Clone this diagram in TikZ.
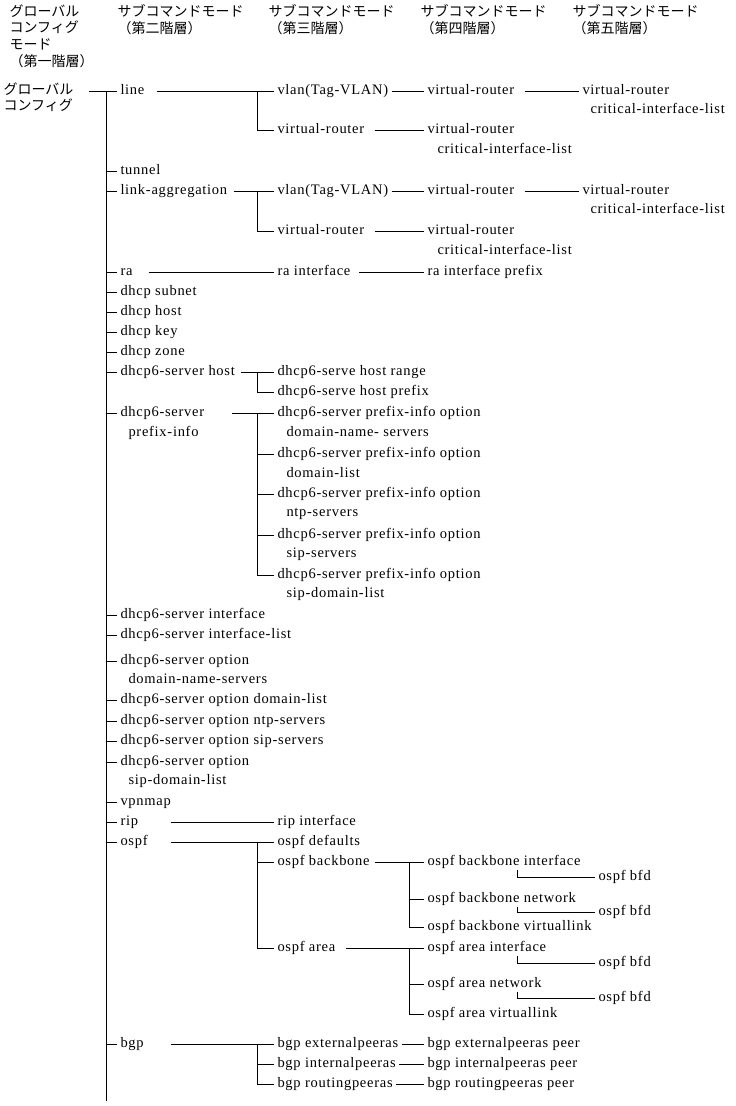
\documentclass[tikz,border=0pt]{standalone}
\usepackage{fontspec}
\setmainfont[LetterSpace=5]{Liberation Serif}
\newfontfamily\jpfont{Noto Sans CJK JP}
\usetikzlibrary{positioning}
\tikzset{
  cmd/.style={anchor=west,inner xsep=3pt,inner ysep=1pt,text height=10pt,text depth=3pt,font=\fontsize{14.5}{16}\selectfont},
  jp/.style={anchor=north west,inner sep=0pt,align=left,font=\jpfont\fontsize{14}{16.7}\selectfont},
}

\begin{document}
\begin{tikzpicture}[x=1pt,y=-1pt,line width=1pt]
  \useasboundingbox (0,0) rectangle (736,1106);
  \node[jp] (hd1) at (9,4) {グローバル\\コンフィグ\\モード\\（第一階層）};
  \node[jp] (hd2) at (117,4) {サブコマンドモード\\（第二階層）};
  \node[jp] (hd3) at (268,4) {サブコマンドモード\\（第三階層）};
  \node[jp] (hd4) at (420,4) {サブコマンドモード\\（第四階層）};
  \node[jp] (hd5) at (572,4) {サブコマンドモード\\（第五階層）};
  \node[jp,font=\jpfont\fontsize{14}{16}\selectfont] (root) at (3,82) {グローバル\\コンフィグ};

  \coordinate (tk) at (106,91);
  \coordinate (tkend) at (106,1101);
  \coordinate (bar3) at (257,0);
  \coordinate (bar4) at (409,0);
  \coordinate (elb) at (517,0);

  % second level
  \node[cmd] (ln) at (117,91) {line};
  \node[cmd] (tun) at (117,171) {tunnel};
  \node[cmd] (lag) at (117,191) {link-aggregation};
  \node[cmd] (ra) at (117,272) {ra};
  \node[cmd] (dsub) at (117,292) {dhcp subnet};
  \node[cmd] (dhost) at (117,312) {dhcp host};
  \node[cmd] (dkey) at (117,332) {dhcp key};
  \node[cmd] (dzone) at (117,352) {dhcp zone};
  \node[cmd] (shost) at (117,372) {dhcp6-server host};
  \node[cmd] (spfx) at (117,413) {dhcp6-server};
  \node[cmd] (spfxb) at (125,433) {prefix-info};
  \node[cmd] (sif) at (117,615) {dhcp6-server interface};
  \node[cmd] (sifl) at (117,635) {dhcp6-server interface-list};
  \node[cmd] (sdns) at (117,661) {dhcp6-server option};
  \node[cmd] (sdnsb) at (125,680) {domain-name-servers};
  \node[cmd] (sdl) at (117,700) {dhcp6-server option domain-list};
  \node[cmd] (sntp) at (117,721) {dhcp6-server option ntp-servers};
  \node[cmd] (ssip) at (117,741) {dhcp6-server option sip-servers};
  \node[cmd] (ssdl) at (117,762) {dhcp6-server option};
  \node[cmd] (ssdlb) at (125,781) {sip-domain-list};
  \node[cmd] (vpn) at (117,802) {vpnmap};
  \node[cmd] (rip) at (117,822) {rip};
  \node[cmd] (ospf) at (117,842) {ospf};
  \node[cmd] (bgp) at (117,1044) {bgp};

  % third level
  \node[cmd] (lvlan) at (274,91) {vlan(Tag-VLAN)};
  \node[cmd] (lvr) at (274,130) {virtual-router};
  \node[cmd] (avlan) at (274,191) {vlan(Tag-VLAN)};
  \node[cmd] (avr) at (274,231) {virtual-router};
  \node[cmd] (rai) at (274,272) {ra interface};
  \node[cmd] (hrng) at (274,372) {dhcp6-serve host range};
  \node[cmd] (hpfx) at (274,392) {dhcp6-serve host prefix};
  \node[cmd] (pdns) at (274,413) {dhcp6-server prefix-info option};
  \node[cmd] (pdnsb) at (283,433) {domain-name- servers};
  \node[cmd] (pdl) at (274,454) {dhcp6-server prefix-info option};
  \node[cmd] (pdlb) at (283,474) {domain-list};
  \node[cmd] (pntp) at (274,494) {dhcp6-server prefix-info option};
  \node[cmd] (pntpb) at (283,513) {ntp-servers};
  \node[cmd] (psip) at (274,535) {dhcp6-server prefix-info option};
  \node[cmd] (psipb) at (283,554) {sip-servers};
  \node[cmd] (psdl) at (274,575) {dhcp6-server prefix-info option};
  \node[cmd] (psdlb) at (283,594) {sip-domain-list};
  \node[cmd] (ripi) at (274,822) {rip interface};
  \node[cmd] (odef) at (274,842) {ospf defaults};
  \node[cmd] (obb) at (274,862) {ospf backbone};
  \node[cmd] (oar) at (274,948) {ospf area};
  \node[cmd] (bext) at (274,1044) {bgp externalpeeras};
  \node[cmd] (bint) at (274,1064) {bgp internalpeeras};
  \node[cmd] (brt) at (274,1084) {bgp routingpeeras};

  % fourth level
  \node[cmd] (lvr4) at (424,91) {virtual-router};
  \node[cmd] (lcil) at (424,130) {virtual-router};
  \node[cmd] (lcilb) at (434,150) {critical-interface-list};
  \node[cmd] (avr4) at (424,191) {virtual-router};
  \node[cmd] (acil) at (424,231) {virtual-router};
  \node[cmd] (acilb) at (434,251) {critical-interface-list};
  \node[cmd] (raip) at (424,272) {ra interface prefix};
  \node[cmd] (bbif) at (424,862) {ospf backbone interface};
  \node[cmd] (bbnw) at (424,899) {ospf backbone network};
  \node[cmd] (bbvl) at (424,927) {ospf backbone virtuallink};
  \node[cmd] (arif) at (424,948) {ospf area interface};
  \node[cmd] (arnw) at (424,984) {ospf area network};
  \node[cmd] (arvl) at (424,1014) {ospf area virtuallink};
  \node[cmd] (bextp) at (424,1044) {bgp externalpeeras peer};
  \node[cmd] (bintp) at (424,1064) {bgp internalpeeras peer};
  \node[cmd] (brtp) at (424,1084) {bgp routingpeeras peer};

  % fifth level
  \node[cmd] (lcil5) at (579,91) {virtual-router};
  \node[cmd] (lcil5b) at (587,110) {critical-interface-list};
  \node[cmd] (acil5) at (579,191) {virtual-router};
  \node[cmd] (acil5b) at (587,210) {critical-interface-list};
  \node[cmd] (bfd1) at (595,877) {ospf bfd};
  \node[cmd] (bfd2) at (595,912) {ospf bfd};
  \node[cmd] (bfd3) at (595,963) {ospf bfd};
  \node[cmd] (bfd4) at (595,998) {ospf bfd};

  % trunk
  \draw[shorten <=15pt] (root.east |- ln.west) -- (ln.west);
  \draw (tk) -- (tkend);
  \foreach \n in {ln,tun,lag,ra,dsub,dhost,dkey,dzone,shost,spfx,sif,sifl,sdns,sdl,sntp,ssip,ssdl,vpn,rip,ospf,bgp}
    \draw (tk |- \n.west) -- (\n.west);

  % line / link-aggregation
  \draw[shorten <=9pt] (ln.east) -- (lvlan.west);
  \draw (bar3 |- lvlan.west) |- (lvr.west);
  \draw (lvlan.east) -- (lvr4.west);
  \draw[shorten <=7pt] (lvr4.east) -- (lcil5.west);
  \draw[shorten <=7pt] (lvr.east) -- (lcil.west);
  \draw[shorten <=3pt] (lag.east) -- (avlan.west);
  \draw (bar3 |- avlan.west) |- (avr.west);
  \draw (avlan.east) -- (avr4.west);
  \draw[shorten <=7pt] (avr4.east) -- (acil5.west);
  \draw[shorten <=7pt] (avr.east) -- (acil.west);

  % ra
  \draw[shorten <=13pt] (ra.east) -- (rai.west);
  \draw[shorten <=5pt] (rai.east) -- (raip.west);

  % dhcp6-server
  \draw[shorten <=3pt] (shost.east) -- (hrng.west);
  \draw (bar3 |- hrng.west) |- (hpfx.west);
  \draw[shorten <=24pt] (spfx.east) -- (pdns.west);
  \draw (bar3 |- pdns.west) |- (psdl.west);
  \foreach \n in {pdl,pntp,psip}
    \draw (bar3 |- \n.west) -- (\n.west);

  % rip / ospf
  \draw[shorten <=29pt] (rip.east) -- (ripi.west);
  \draw[shorten <=20pt] (ospf.east) -- (odef.west);
  \draw (bar3 |- odef.west) |- (oar.west);
  \draw (bar3 |- obb.west) -- (obb.west);
  \draw[shorten <=2pt] (obb.east) -- (bbif.west);
  \draw (bar4 |- bbif.west) |- (bbvl.west);
  \draw (bar4 |- bbnw.west) -- (bbnw.west);
  \draw[shorten <=7pt] (oar.east) -- (arif.west);
  \draw (bar4 |- arif.west) |- (arvl.west);
  \draw (bar4 |- arnw.west) -- (arnw.west);
  \draw (elb |- bbif.south) |- (bfd1.west);
  \draw (elb |- bbnw.south) |- (bfd2.west);
  \draw (elb |- arif.south) |- (bfd3.west);
  \draw (elb |- arnw.south) |- (bfd4.west);

  % bgp
  \draw[shorten <=24pt] (bgp.east) -- (bext.west);
  \draw (bar3 |- bext.west) |- (brt.west);
  \draw (bar3 |- bint.west) -- (bint.west);
  \draw (bext.east) -- (bextp.west);
  \draw (bint.east) -- (bintp.west);
  \draw (brt.east) -- (brtp.west);
\end{tikzpicture}
\end{document}
